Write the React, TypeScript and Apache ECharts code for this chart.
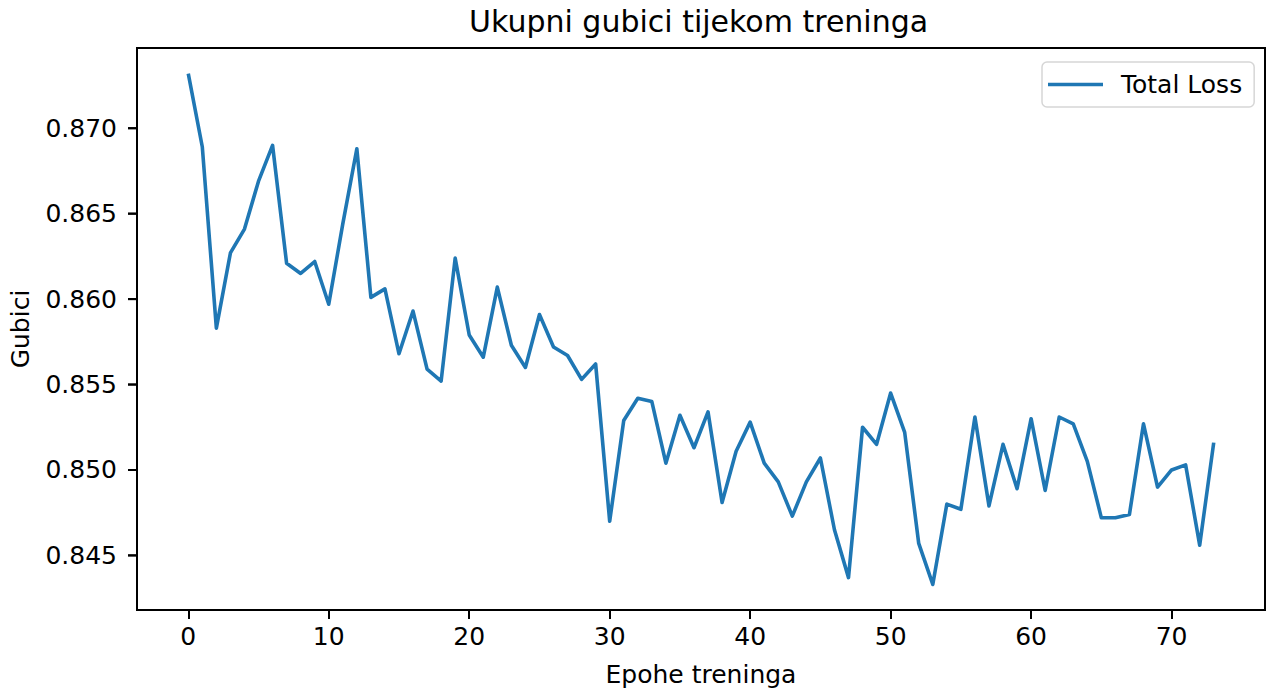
import React, { useEffect, useRef } from "react";
import * as echarts from "echarts";

const epochs: number[] = Array.from({ length: 74 }, (_, i) => i);
const totalLoss: number[] = [
  0.8732, 0.8689, 0.8583, 0.8627, 0.8641, 0.8669, 0.869, 0.8621, 0.8615, 0.8622,
  0.8597, 0.8644, 0.8688, 0.8601, 0.8606, 0.8568, 0.8593, 0.8559, 0.8552, 0.8624,
  0.8579, 0.8566, 0.8607, 0.8573, 0.856, 0.8591, 0.8572, 0.8567, 0.8553, 0.8562,
  0.847, 0.8529, 0.8542, 0.854, 0.8504, 0.8532, 0.8513, 0.8534, 0.8481, 0.8511,
  0.8528, 0.8504, 0.8493, 0.8473, 0.8493, 0.8507, 0.8465, 0.8437, 0.8525, 0.8515,
  0.8545, 0.8522, 0.8457, 0.8433, 0.848, 0.8477, 0.8531, 0.8479, 0.8515, 0.8489,
  0.853, 0.8488, 0.8531, 0.8527, 0.8505, 0.8472, 0.8472, 0.8474, 0.8527, 0.849,
  0.85, 0.8503, 0.8456, 0.8516,
];
const xTicks: number[] = [0, 10, 20, 30, 40, 50, 60, 70];
const yTicks: number[] = [0.845, 0.85, 0.855, 0.86, 0.865, 0.87];

const title = "Ukupni gubici tijekom treninga";
const xName = "Epohe treninga";
const yName = "Gubici";
const seriesName = "Total Loss";

const FONT = "DejaVu Sans";
const TICK_LEN = 9;

export default function App() {
  const ref = useRef<HTMLDivElement>(null);
  useEffect(() => {
    if (!ref.current) return;
    const chart = echarts.init(ref.current, null, { renderer: "svg" });
    const xmin0 = Math.min(...epochs);
    const xmax0 = Math.max(...epochs);
    const xpad = (xmax0 - xmin0) * 0.05;
    const xMin = xmin0 - xpad;
    const ymin0 = Math.min(...totalLoss);
    const ymax0 = Math.max(...totalLoss);
    const ypad = (ymax0 - ymin0) * 0.05;
    const data = epochs.map((e, i) => [e, totalLoss[i]]);
    chart.setOption({
      animation: false,
      backgroundColor: "#fff",
      title: {
        text: title,
        left: 469,
        top: 6,
        padding: 0,
        textStyle: { fontFamily: FONT, fontSize: 30, fontWeight: "normal", color: "#000" },
      },
      legend: {
        show: true,
        left: 1042,
        top: 62,
        orient: "horizontal",
        padding: [10, 12, 10, 6],
        backgroundColor: "#fff",
        borderColor: "#d6d6d6",
        borderWidth: 1.5,
        borderRadius: 5,
        itemWidth: 55,
        itemHeight: 3.6,
        data: [{ name: seriesName, icon: "rect" }],
        textStyle: {
          fontFamily: FONT,
          fontSize: 25,
          color: "#000",
          lineHeight: 25,
          padding: [0, 0, 0, 13],
        },
      },
      grid: {
        left: 137,
        top: 48,
        width: 1128,
        height: 562,
        show: true,
        borderColor: "#000",
        borderWidth: 2,
        backgroundColor: "transparent",
        containLabel: false,
      },
      xAxis: {
        type: "value",
        position: "bottom",
        min: xMin,
        max: xmax0 + xpad,
        name: xName,
        nameLocation: "middle",
        nameGap: 52,
        nameTextStyle: { fontFamily: FONT, fontSize: 25, color: "#000" },
        axisLine: { show: true, onZero: false, lineStyle: { color: "#000", width: 2 } },
        splitLine: { show: false },
        axisTick: {
          show: true,
          length: TICK_LEN,
          inside: false,
          customValues: xTicks,
          lineStyle: { color: "#000", width: 2 },
        },
        axisLabel: {
          customValues: xTicks,
          margin: 14,
          fontFamily: FONT,
          fontSize: 25,
          color: "#000",
          formatter: (v: number) => String(v),
        },
      },
      yAxis: {
        type: "value",
        position: "left",
        min: ymin0 - ypad,
        max: ymax0 + ypad,
        name: yName,
        nameLocation: "middle",
        nameRotate: 90,
        nameGap: 104,
        nameTextStyle: { fontFamily: FONT, fontSize: 25, color: "#000" },
        axisLine: { show: true, onZero: false, lineStyle: { color: "#000", width: 2 } },
        splitLine: { show: false },
        axisTick: { show: false },
        axisLabel: {
          customValues: yTicks,
          margin: 0,
          fontFamily: FONT,
          fontSize: 25,
          color: "#000",
          formatter: (v: number) => "{v|" + v.toFixed(3) + "}{g|}{t|}",
          rich: {
            v: { fontFamily: FONT, fontSize: 25, color: "#000", verticalAlign: "middle" },
            g: { width: 11, height: 2, verticalAlign: "middle" },
            t: { width: TICK_LEN, height: 2, backgroundColor: "#000", verticalAlign: "middle" },
          },
        },
      },
      series: [
        {
          name: seriesName,
          type: "line",
          data,
          showSymbol: false,
          symbol: "none",
          color: "#1f77b4",
          lineStyle: { color: "#1f77b4", width: 3.6, join: "round", cap: "butt" },
        },
        {
          name: "yTickMarks",
          type: "custom",
          silent: true,
          clip: false,
          z: 20,
          data: yTicks.map((v) => [xMin, v]),
          encode: { x: 0, y: 1 },
          renderItem: (_params: any, api: any) => {
            const pt = api.coord([api.value(0), api.value(1)]);
            return {
              type: "line",
              shape: { x1: pt[0] - TICK_LEN, y1: pt[1], x2: pt[0], y2: pt[1] },
              style: { stroke: "#000", lineWidth: 2 },
            };
          },
        },
      ],
    });
    return () => chart.dispose();
  }, []);
  return (
    <div
      ref={ref}
      style={{ position: "absolute", left: 0, top: 0, width: 1271, height: 694 }}
    />
  );
}
